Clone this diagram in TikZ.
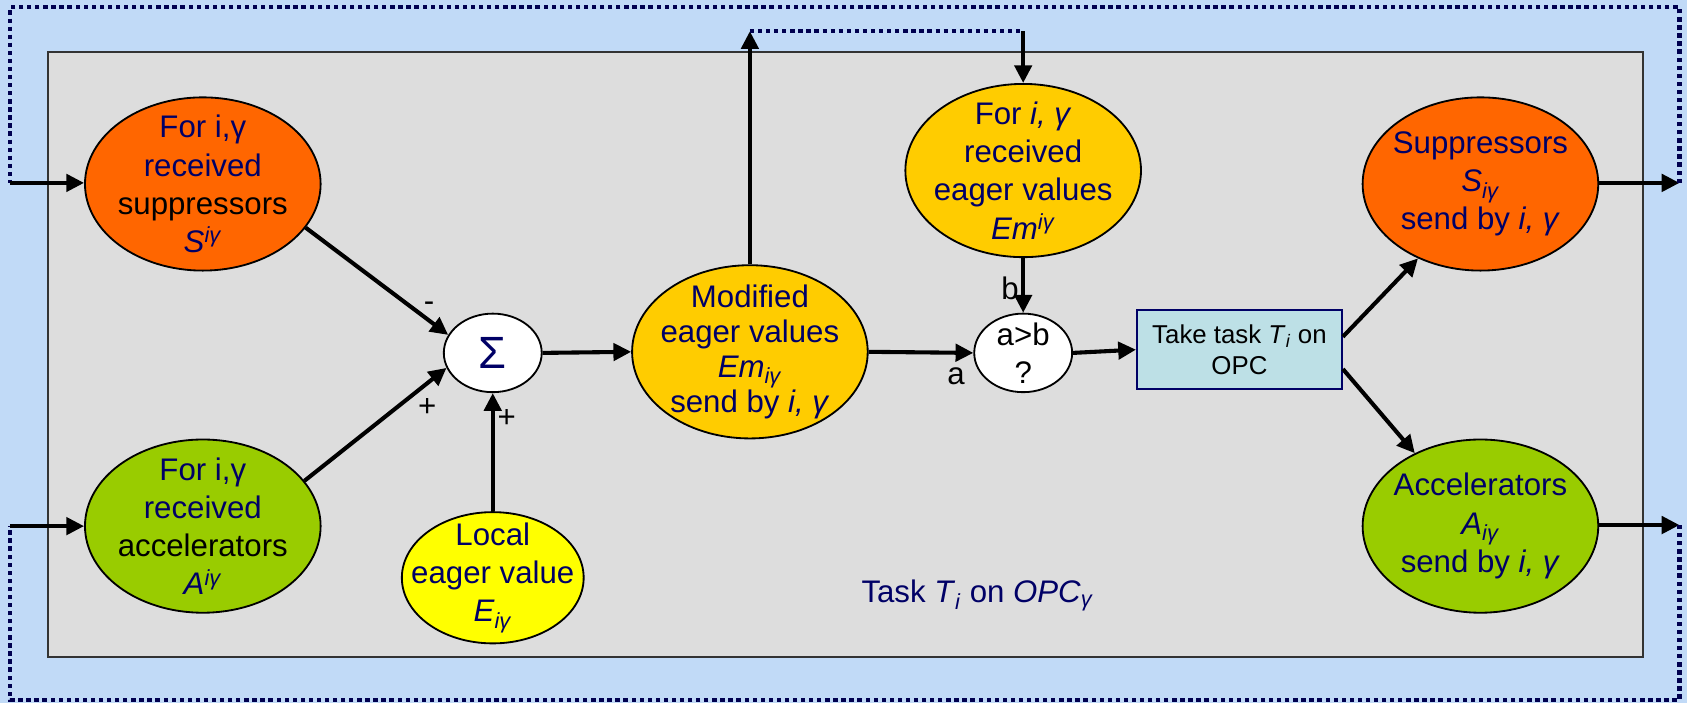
\documentclass[tikz,border=0pt]{standalone}
\usepackage{fontspec}
\setmainfont{Liberation Sans}
\usetikzlibrary{shapes.geometric, arrows.meta, calc}

\definecolor{bgblue}{RGB}{193,218,247}
\definecolor{panelgrey}{RGB}{221,221,221}
\definecolor{navy}{RGB}{0,0,102}
\definecolor{dotnavy}{RGB}{0,0,80}
\definecolor{orangeF}{RGB}{255,102,0}
\definecolor{greenF}{RGB}{153,204,0}
\definecolor{goldF}{RGB}{255,204,0}
\definecolor{yellowF}{RGB}{255,255,0}
\definecolor{taskF}{RGB}{189,224,230}

\begin{document}
\begin{tikzpicture}[x=1pt, y=-1pt,
  ell/.style={ellipse, draw=black, line width=1.7pt, inner sep=0pt},
  bigell/.style={ell, minimum width=219pt, minimum height=161pt},
  txt/.style={align=center, text=navy, inner sep=0pt,
    font=\fontsize{29}{35.5}\selectfont},
  lbl/.style={text=black, inner sep=0pt, font=\fontsize{29}{35.5}\selectfont},
  arr/.style={line width=3.8pt, -{Triangle[length=16.5pt,width=16pt]}},
  dots/.style={draw=dotnavy, line width=3.8pt, dash pattern=on 4pt off 3.5pt},
  taskbox/.style={rectangle, draw=navy, line width=1.8pt, fill=taskF,
    minimum width=190.5pt, minimum height=73pt, inner sep=2pt, align=center,
    font=\fontsize{24}{29.5}\selectfont}
]
\useasboundingbox (0,0) rectangle (1568,653);
\fill[bgblue] (0,0) rectangle (1568,653);
\draw[fill=panelgrey, draw=black!80, line width=1.8pt] (44.5,48.6) rectangle (1527,610.5);

% incoming signals
\node[bigell, fill=orangeF] (lsup) at (188.5,171) {};
\node[txt] (lsupT) at (lsup) {For i,γ\\received\\{\color{black}suppressors}\\\textit{S}\textsuperscript{\textit{iγ}}};
\node[bigell, fill=greenF] (lacc) at (188.5,489) {};
\node[txt] (laccT) at (lacc) {For i,γ\\received\\{\color{black}accelerators}\\\textit{A}\textsuperscript{\textit{iγ}}};

% local value and summation
\node[ell, fill=yellowF, minimum width=169pt, minimum height=122pt] (local) at (458,537) {};
\node[txt] (localT) at (local) {Local\\eager value\\\textit{E}\textsubscript{\textit{iγ}}};
\node[ell, fill=white, minimum width=91pt, minimum height=73pt] (sigma) at (458,328) {};
\node[text=navy, inner sep=0pt, font=\fontsize{42}{42}\selectfont] (sigmaT) at (sigma) {Σ};

% modified and received eager values
\node[bigell, fill=goldF] (mod) at (697,327) {};
\node[txt, font=\fontsize{29}{32.5}\selectfont] (modT) at (mod) {Modified\\eager values\\\textit{Em}\textsubscript{\textit{iγ}}\\send by \textit{i, γ}};
\node[bigell, fill=goldF] (recv) at (951,158.5) {};
\node[txt] (recvT) at (recv) {For \textit{i, γ}\\received\\eager values\\\textit{Em}\textsuperscript{\textit{iγ}}};

% comparison and decision
\node[ell, fill=white, minimum width=91pt, minimum height=73pt] (cmp) at (951,328) {};
\node[txt, text=black] (cmpT) at (cmp) {a>b\\?};
\node[taskbox] (task) at (1152,325) {Take task \textit{T}\textsubscript{\textit{i}} on\\OPC};

% outgoing signals
\node[bigell, fill=orangeF] (sout) at (1376,171) {};
\node[txt] (soutT) at (sout) {Suppressors\\\textit{S}\textsubscript{\textit{iγ}}\\send by \textit{i, γ}};
\node[bigell, fill=greenF] (aout) at (1376,489) {};
\node[txt] (aoutT) at (aout) {Accelerators\\\textit{A}\textsubscript{\textit{iγ}}\\send by \textit{i, γ}};

\node[txt, anchor=base] (caption) at (908.5,560) {Task \textit{T}\textsubscript{\textit{i}} on \textit{OPC}\textsubscript{\textit{γ}}};

% connectors inside the panel
\draw[arr] (lsup.-23) -- (sigma.158);
\draw[arr] (lacc.24) -- (sigma.198);
\draw[arr] (local.north) -- (sigma.south);
\draw[arr] (sigma.east) -- (mod.west);
\draw[arr] (mod.east) -- (cmp.west);
\draw[arr] (recv.south) -- (cmp.north);
\draw[arr] (cmp.east) -- (task.west);
\draw[arr] ($(task.east)+(0,-12)$) -- (sout.230);
\draw[arr] ($(task.east)+(0,18)$) -- (aout.132);

\node[lbl] (minusL) at (398.7,285) {-};
\node[lbl] (plusA) at (397,379) {+};
\node[lbl] (plusE) at (471,388.6) {+};
\node[lbl] (aL) at (888.5,349.5) {a};
\node[lbl] (bL) at (938.7,268) {b};

% exchange of eager values through the outside
\coordinate (topL) at (697,29);
\coordinate (topR) at (951,29);
\draw[arr] (mod.north) -- (topL);
\draw[dots] (topL) -- (topR);
\draw[arr] (topR) -- (recv.north);

% feedback loops for suppressors and accelerators
\coordinate (sOut) at (1561,170);
\coordinate (sTopR) at (1561,6.8);
\coordinate (sTopL) at (9.6,6.8);
\coordinate (sIn) at (9.6,170);
\draw[arr] (sout.east |- sOut) -- (sOut);
\draw[dots] (sOut) -- (sTopR) -- (sTopL) -- (sIn);
\draw[arr] (sIn) -- (lsup.west |- sIn);

\coordinate (aOut) at (1561,488);
\coordinate (aBotR) at (1561,650.5);
\coordinate (aBotL) at (9.6,650.5);
\coordinate (aIn) at (9.6,489);
\draw[arr] (aout.east |- aOut) -- (aOut);
\draw[dots] (aOut) -- (aBotR) -- (aBotL) -- (aIn);
\draw[arr] (aIn) -- (lacc.west);
\end{tikzpicture}
\end{document}
